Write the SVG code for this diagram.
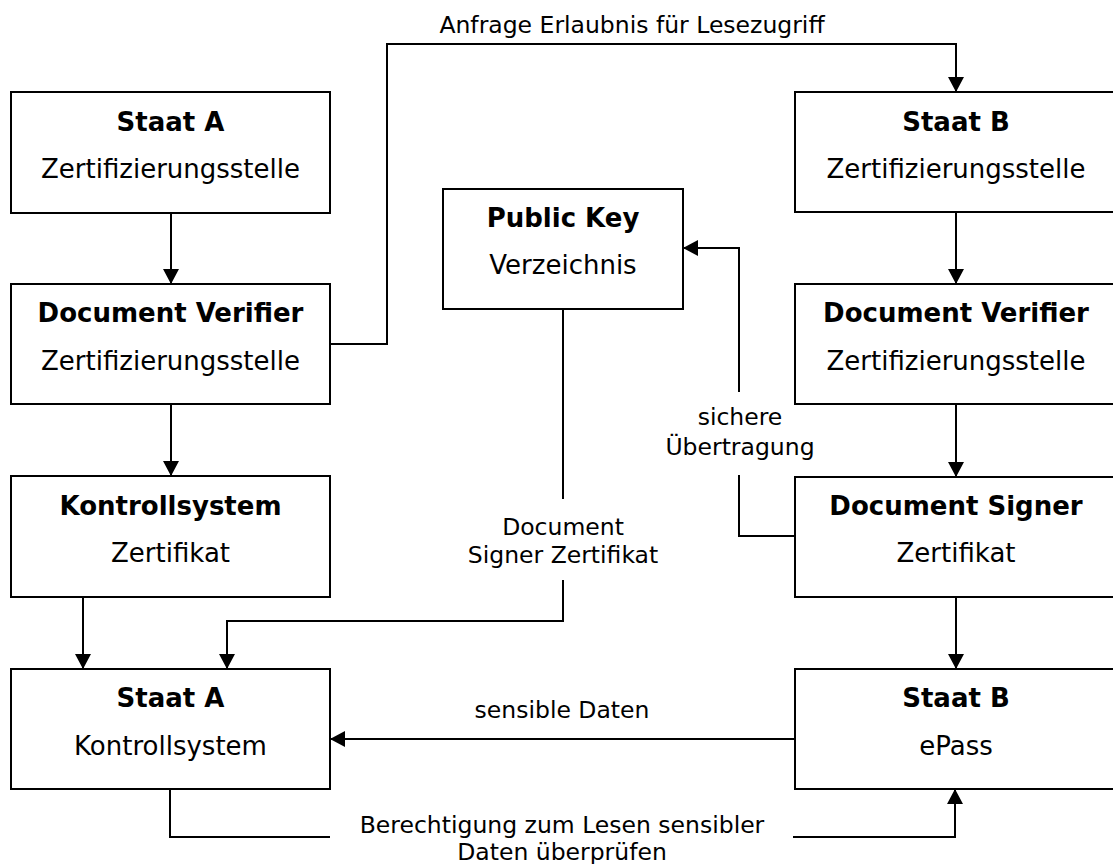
<svg xmlns="http://www.w3.org/2000/svg" width="1113" height="864" viewBox="0 0 1113 864">
<style>
.box{fill:#fff;stroke:#000;stroke-width:2}
.t{font-family:"DejaVu Sans",Verdana,sans-serif;font-size:26px;text-anchor:middle;fill:#000}
.b{font-weight:bold}
.lbl{font-family:"DejaVu Sans",Verdana,sans-serif;font-size:23.5px;text-anchor:middle;fill:#000}
.c{fill:none;stroke:#000;stroke-width:2}
</style>
<defs>
<marker id="ah" markerUnits="userSpaceOnUse" markerWidth="16" markerHeight="16" refX="15" refY="8" orient="auto">
<path d="M0,0 L15,8 L0,16 z" fill="#000"/>
</marker>
</defs>
<rect width="1113" height="864" fill="#fff"/>
<g id="connectors">
<path class="c" d="M171,213 V284" marker-end="url(#ah)"/>
<path class="c" d="M171,404 V476" marker-end="url(#ah)"/>
<path class="c" d="M83,597 V669" marker-end="url(#ah)"/>
<path class="c" d="M563,309 V499 M563,580 V621 H227 V669" marker-end="url(#ah)"/>
<path class="c" d="M330,344 H387 V44 H956 V92" marker-end="url(#ah)"/>
<path class="c" d="M956,212 V284" marker-end="url(#ah)"/>
<path class="c" d="M956,404 V477" marker-end="url(#ah)"/>
<path class="c" d="M795,536 H739 V475 M739,392 V248 H683" marker-end="url(#ah)"/>
<path class="c" d="M956,597 V669" marker-end="url(#ah)"/>
<path class="c" d="M795,739 H330" marker-end="url(#ah)"/>
<path class="c" d="M170,789 V837 H330 M793,837 H955 V789" marker-end="url(#ah)"/>
<text class="lbl" x="632" y="33">Anfrage Erlaubnis für Lesezugriff</text>
<text class="lbl" x="740" y="425">sichere</text>
<text class="lbl" x="740" y="455">Übertragung</text>
<text class="lbl" x="563" y="535">Document</text>
<text class="lbl" x="563" y="563">Signer Zertifikat</text>
<text class="lbl" x="562" y="718">sensible Daten</text>
<text class="lbl" x="562" y="833">Berechtigung zum Lesen sensibler</text>
<text class="lbl" x="562" y="860">Daten überprüfen</text>
</g>
<g id="staatA-zs">
<rect class="box" x="11" y="92" width="319" height="121"/>
<text class="t b" x="170.5" y="131">Staat A</text>
<text class="t" x="170.5" y="178">Zertifizierungsstelle</text>
</g>
<g id="dvA">
<rect class="box" x="11" y="284" width="319" height="120"/>
<text class="t b" x="170.5" y="322">Document Verifier</text>
<text class="t" x="170.5" y="370">Zertifizierungsstelle</text>
</g>
<g id="ksZert">
<rect class="box" x="11" y="476" width="319" height="121"/>
<text class="t b" x="170.5" y="515">Kontrollsystem</text>
<text class="t" x="170.5" y="562">Zertifikat</text>
</g>
<g id="staatA-ks">
<rect class="box" x="11" y="669" width="319" height="120"/>
<text class="t b" x="170.5" y="707">Staat A</text>
<text class="t" x="170.5" y="755">Kontrollsystem</text>
</g>
<g id="publicKey">
<rect class="box" x="443" y="189" width="240" height="120"/>
<text class="t b" x="563" y="227">Public Key</text>
<text class="t" x="563" y="274">Verzeichnis</text>
</g>
<g id="staatB-zs">
<rect class="box" x="795" y="92" width="319" height="120"/>
<text class="t b" x="956" y="131">Staat B</text>
<text class="t" x="956" y="178">Zertifizierungsstelle</text>
</g>
<g id="dvB">
<rect class="box" x="795" y="284" width="319" height="120"/>
<text class="t b" x="956" y="322">Document Verifier</text>
<text class="t" x="956" y="370">Zertifizierungsstelle</text>
</g>
<g id="ds">
<rect class="box" x="795" y="477" width="319" height="120"/>
<text class="t b" x="956" y="515">Document Signer</text>
<text class="t" x="956" y="562">Zertifikat</text>
</g>
<g id="staatB-epass">
<rect class="box" x="795" y="669" width="319" height="120"/>
<text class="t b" x="956" y="707">Staat B</text>
<text class="t" x="956" y="755">ePass</text>
</g>
</svg>
